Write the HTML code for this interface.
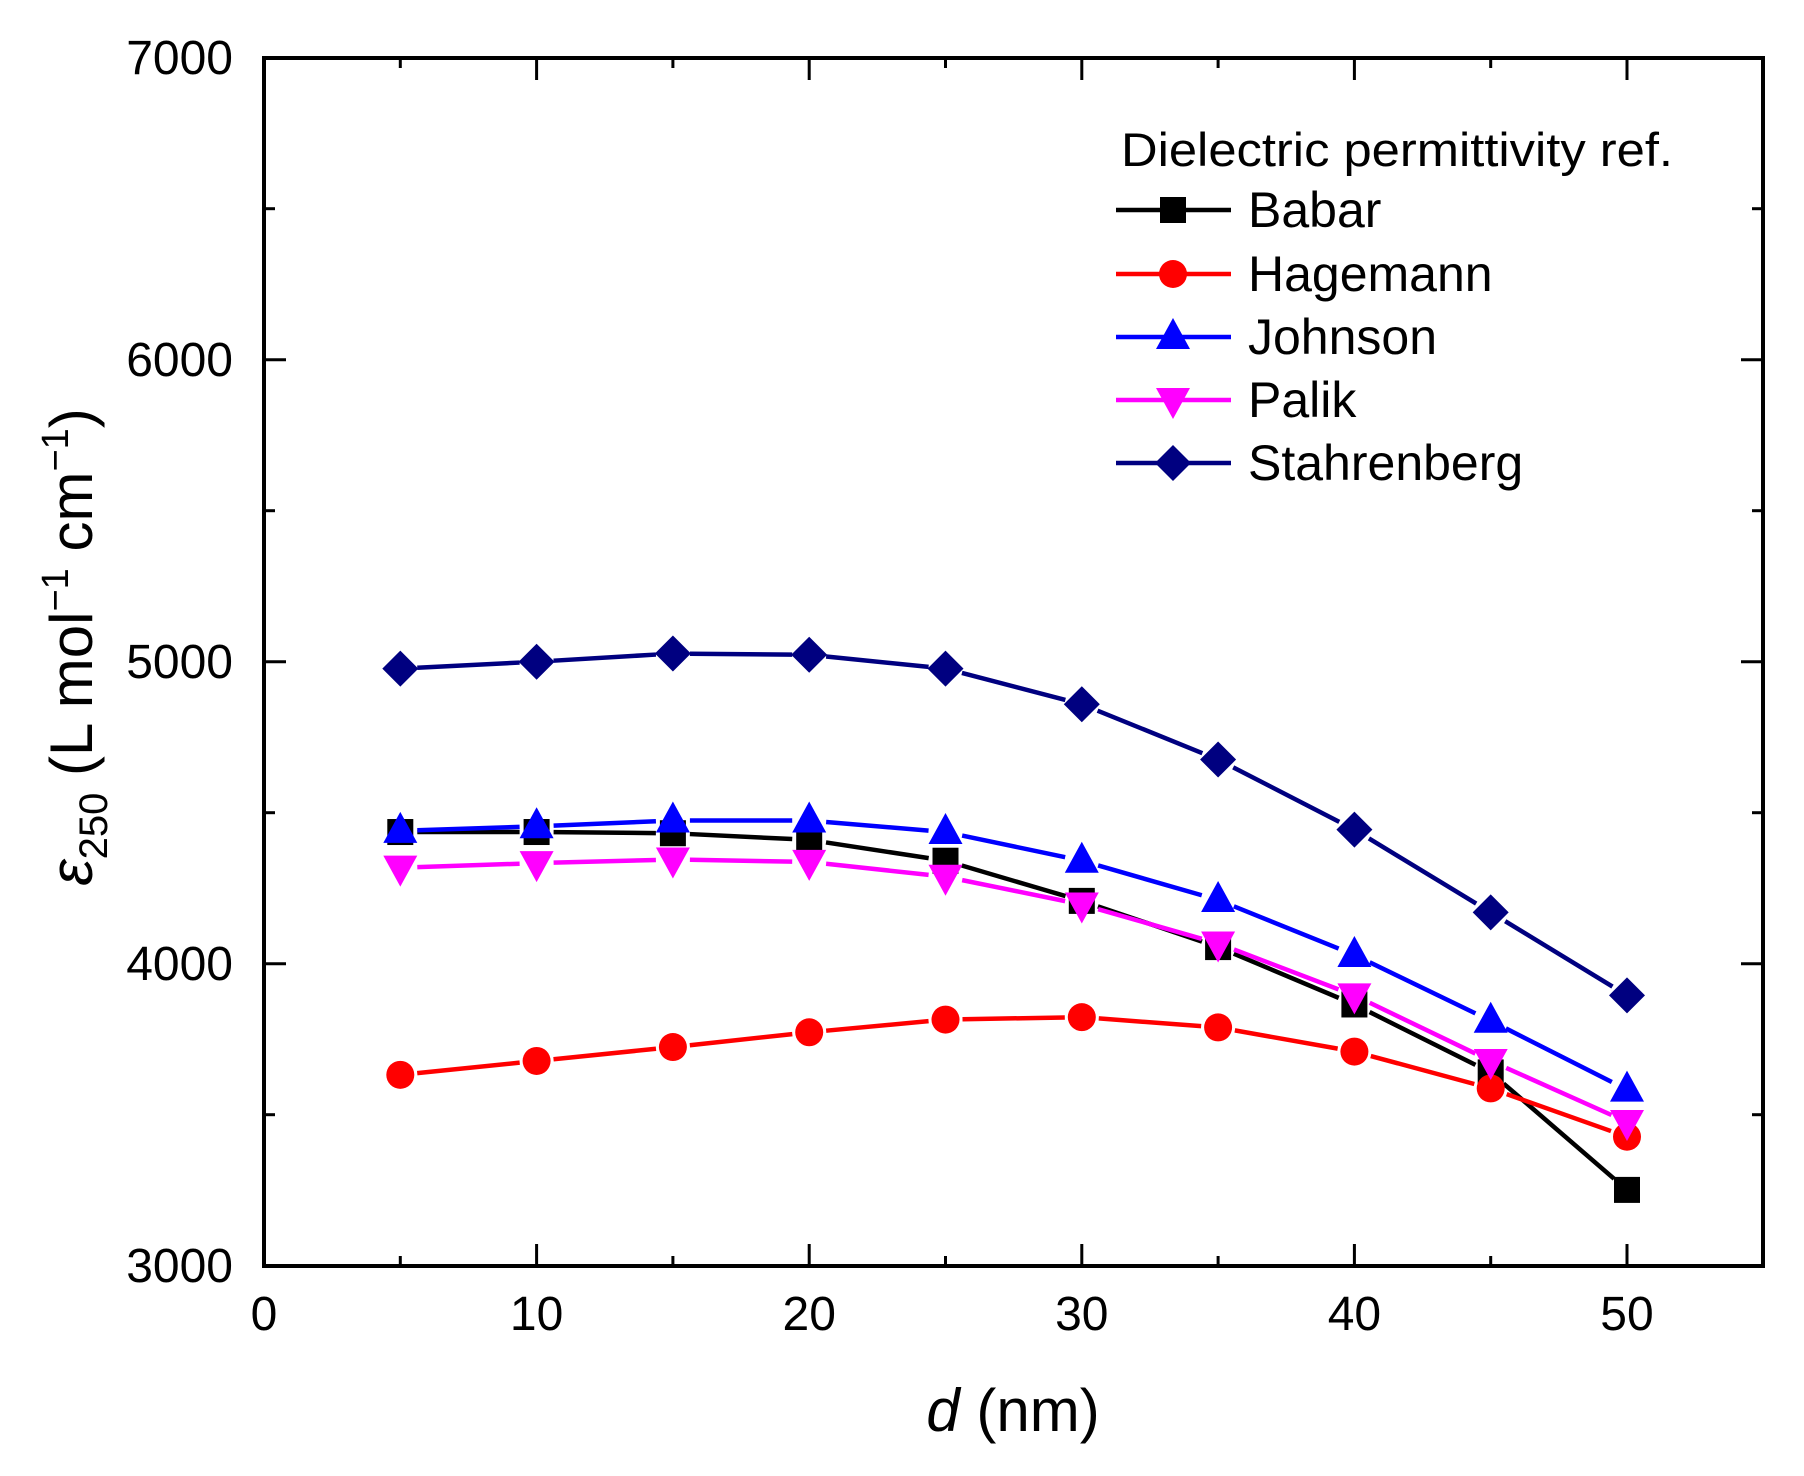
<!DOCTYPE html>
<html><head><meta charset="utf-8"><style>
html,body{margin:0;padding:0;background:#fff;}
svg{display:block;font-family:"Liberation Sans",Arial,sans-serif;}
</style></head><body>
<svg id="s" width="1804" height="1476" viewBox="0 0 1804 1476" xmlns="http://www.w3.org/2000/svg">
<rect width="1804" height="1476" fill="#fff"/>
<g id="ticks" stroke="#000" stroke-width="3"></g>
<rect x="264" y="58" width="1499" height="1208" fill="none" stroke="#000" stroke-width="4"/>
<g font-size="48" fill="#000" text-anchor="end">
<text x="233" y="74">7000</text>
<text x="233" y="376">6000</text>
<text x="233" y="678">5000</text>
<text x="233" y="980">4000</text>
<text x="233" y="1282">3000</text>
</g>
<g font-size="48" fill="#000" text-anchor="middle">
<text x="264" y="1330">0</text>
<text x="536.6" y="1330">10</text>
<text x="809.2" y="1330">20</text>
<text x="1081.8" y="1330">30</text>
<text x="1354.4" y="1330">40</text>
<text x="1627" y="1330">50</text>
</g>
<text x="1013" y="1431" font-size="60" text-anchor="middle"><tspan font-style="italic">d</tspan> (nm)</text>
<text transform="translate(92,647) rotate(-90)" font-size="60" text-anchor="middle"><tspan font-style="italic">ε</tspan><tspan font-size="40" dy="15">250</tspan><tspan dy="-15"> (L mol</tspan><tspan font-size="38" dy="-24">−1</tspan><tspan dy="24"> cm</tspan><tspan font-size="38" dy="-24">−1</tspan><tspan dy="24">)</tspan></text>
<g id="data"></g>
<g id="legend"></g>
<text x="1121" y="166" font-size="47" textLength="552" lengthAdjust="spacingAndGlyphs">Dielectric permittivity ref.</text>
</svg>
<script>
var NS="http://www.w3.org/2000/svg";
function X(v){return 264+v*27.26;}
function Y(v){return 1265.7-(v-3000)*0.302;}
function el(t,a,p){var e=document.createElementNS(NS,t);for(var k in a)e.setAttribute(k,a[k]);p.appendChild(e);return e;}
var tk=document.getElementById('ticks');
for(var v=3000;v<=7000;v+=500){var L=(v%1000==0)?22:11;var y=Y(v);
 el('line',{x1:264,y1:y,x2:264+L,y2:y},tk);el('line',{x1:1763,y1:y,x2:1763-L,y2:y},tk);}
for(var d=5;d<=55;d+=5){var L=(d%10==0)?22:10;var x=X(d);
 el('line',{x1:x,y1:1266,x2:x,y2:1266-L},tk);el('line',{x1:x,y1:58,x2:x,y2:58+L},tk);}
function marker(type,x,y,c,g){
 if(type=='sq')el('rect',{x:x-13,y:y-13,width:26,height:26,fill:c},g);
 else if(type=='ci')el('circle',{cx:x,cy:y,r:14,fill:c},g);
 else if(type=='up')el('polygon',{points:(x)+','+(y-19)+' '+(x-17)+','+(y+12)+' '+(x+17)+','+(y+12),fill:c},g);
 else if(type=='dn')el('polygon',{points:(x)+','+(y+19)+' '+(x-17)+','+(y-12)+' '+(x+17)+','+(y-12),fill:c},g);
 else el('polygon',{points:x+','+(y-18)+' '+(x+18)+','+y+' '+x+','+(y+18)+' '+(x-18)+','+y,fill:c},g);
}
var S=[
 ['sq','#000',[4436,4436,4432,4410,4341,4208,4055,3865,3640,3251]],
 ['ci','#ff0000',[3632,3678,3724,3773,3815,3823,3789,3709,3587,3427]],
 ['up','#0000ff',[4440,4455,4474,4474,4436,4341,4211,4029,3811,3583]],
 ['dn','#ff00ff',[4318,4333,4345,4337,4288,4196,4067,3895,3678,3476]],
 ['di','#000080',[4977,5000,5027,5023,4977,4859,4676,4444,4170,3895]]
];
var g=document.getElementById('data');
S.forEach(function(s){
 var pts=s[2].map(function(v,i){return [X(5+5*i),Y(v)];});
 for(var i=0;i<pts.length-1;i++){var a=pts[i],b=pts[i+1];var dx=b[0]-a[0],dy=b[1]-a[1],l=Math.sqrt(dx*dx+dy*dy);var r=17;
  el('line',{x1:a[0]+dx/l*r,y1:a[1]+dy/l*r,x2:b[0]-dx/l*r,y2:b[1]-dy/l*r,stroke:s[1],'stroke-width':4.5},g);}
 pts.forEach(function(p){marker(s[0],p[0],p[1],s[1],g);});
});
var lg=document.getElementById('legend');
var names=['Babar','Hagemann','Johnson','Palik','Stahrenberg'];
var ly=[210,274,337,400,463];
S.forEach(function(s,i){var y=ly[i];
 el('line',{x1:1116,y1:y,x2:1231,y2:y,stroke:s[1],'stroke-width':4.5},lg);
 marker(s[0],1173,y,s[1],lg);
 var t=el('text',{x:1248,y:y+17,'font-size':50},lg);t.textContent=names[i];
});
</script>
</body></html>
